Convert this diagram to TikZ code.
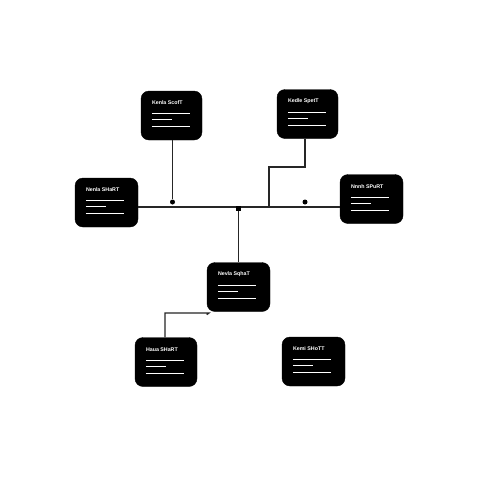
\documentclass[tikz,border=0pt]{standalone}
\usepackage{fontspec}
\setsansfont{Liberation Sans}
\begin{document}
\begin{tikzpicture}[x=1pt,y=-1pt,
  card/.style={fill=black,draw=black,rounded corners=8pt,minimum width=62pt,minimum height=49pt,inner sep=0pt},
  wire/.style={draw=black!85,line width=1.2pt},
  dotm/.style={circle,fill=black,inner sep=0pt,minimum size=5pt},
  txt/.style={text=white,font=\fontsize{5.3}{6}\sffamily\bfseries,inner sep=0pt,anchor=west}]
\useasboundingbox (0,0) rectangle (480,480);
\fill[white] (0,0) rectangle (480,480);
\newcommand{\mkcard}[4]{%
  \node[card,minimum width=#4] (#1) at (#2) {};
  \node[txt] (#1t) at ([xshift=11pt,yshift=-12pt]#1.north west) {#3};
  \draw[white,line width=1.2pt] ([xshift=11pt,yshift=-23pt]#1.north west) -- ++(38,0);
  \draw[white,line width=1.2pt] ([xshift=11pt,yshift=-29pt]#1.north west) -- ++(20,0);
  \draw[white,line width=1.2pt] ([xshift=11pt,yshift=-36pt]#1.north west) -- ++(38,0);
}
\mkcard{b1}{171.5,115.5}{Kenla ScofT}{61pt}
\mkcard{b2}{307.5,114}{Kedle SpetT}{61pt}
\mkcard{b3}{106.5,202.5}{Nenla SHaRT}{63pt}
\mkcard{b4}{371.5,199}{Nnnh SPuRT}{63pt}
\mkcard{b5}{238.5,287}{Nevla SqhaT}{63pt}
\mkcard{b6}{166,362}{Haua SHaRT}{62pt}
\mkcard{b7}{313.5,361.5}{Kemi SHoTT}{63pt}
% bus
\coordinate (busL) at (b3.east |- 0,207);
\coordinate (busR) at (b4.west |- 0,207);
\draw[wire] (busL) -- (busR);
% b1 drop
\node[dotm] (d1) at (172.5,202) {};
\draw[wire] (b1.south -| d1) -- (d1);
% b2 elbow
\coordinate (e1) at (305,167);
\coordinate (e2) at (269,167);
\coordinate (e3) at (269,207);
\draw[wire] (b2.south -| e1) -- (e1) -- (e2) -- (e3);
\node[dotm] (d2) at (305,202) {};
% centre junction to b5
\node[fill=black,inner sep=0pt,minimum size=5pt] (d3) at (238.5,208) {};
\draw[wire] (d3) -- (b5.north -| d3);
% b6 to b5
\coordinate (f1) at (165,313);
\draw[wire] (b6.north -| f1) -- (f1) -- (209,313) -- ([yshift=-3pt]b5.south west);
\end{tikzpicture}
\end{document}
